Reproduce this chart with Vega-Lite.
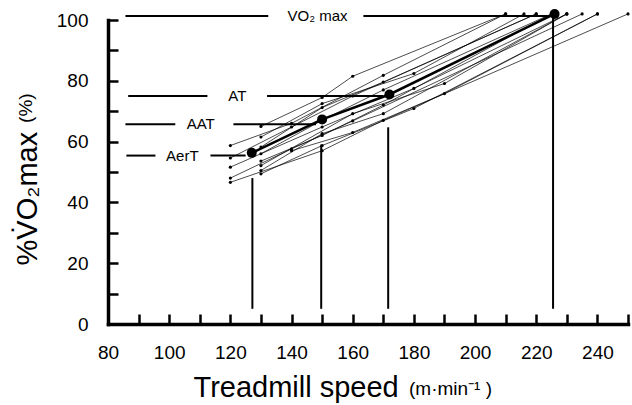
{
  "$schema": "https://vega.github.io/schema/vega-lite/v6.json",
  "width": 520,
  "height": 304,
  "autosize": "none",
  "padding": {"left": 108, "top": 20, "right": 4, "bottom": 81},
  "config": {"view": {"stroke": null}, "font": "Liberation Sans"},
  "datasets": {
    "subjects": [
      {"s": 1, "x": 130, "y": 65}, {"s": 1, "x": 150, "y": 74.5}, {"s": 1, "x": 160, "y": 81.5}, {"s": 1, "x": 210, "y": 102},
      {"s": 2, "x": 120, "y": 58.7}, {"s": 2, "x": 140, "y": 66}, {"s": 2, "x": 170, "y": 81.8}, {"s": 2, "x": 210, "y": 102},
      {"s": 3, "x": 130, "y": 61.5}, {"s": 3, "x": 150, "y": 72.5}, {"s": 3, "x": 180, "y": 82.4}, {"s": 3, "x": 216, "y": 102},
      {"s": 4, "x": 130, "y": 58.2}, {"s": 4, "x": 150, "y": 71.2}, {"s": 4, "x": 170, "y": 79.6}, {"s": 4, "x": 220, "y": 102},
      {"s": 5, "x": 120, "y": 54.6}, {"s": 5, "x": 140, "y": 64.8}, {"s": 5, "x": 160, "y": 75}, {"s": 5, "x": 220, "y": 102},
      {"s": 6, "x": 130, "y": 56}, {"s": 6, "x": 150, "y": 67}, {"s": 6, "x": 170, "y": 77}, {"s": 6, "x": 225, "y": 102},
      {"s": 7, "x": 130, "y": 53.6}, {"s": 7, "x": 150, "y": 62}, {"s": 7, "x": 170, "y": 72}, {"s": 7, "x": 225, "y": 102},
      {"s": 8, "x": 120, "y": 51.6}, {"s": 8, "x": 150, "y": 64.8}, {"s": 8, "x": 180, "y": 77.5}, {"s": 8, "x": 230, "y": 102},
      {"s": 9, "x": 130, "y": 52.1}, {"s": 9, "x": 160, "y": 69.2}, {"s": 9, "x": 190, "y": 79.1}, {"s": 9, "x": 230, "y": 102},
      {"s": 10, "x": 130, "y": 50.5}, {"s": 10, "x": 150, "y": 62.6}, {"s": 10, "x": 170, "y": 69.2}, {"s": 10, "x": 230, "y": 102},
      {"s": 11, "x": 120, "y": 48}, {"s": 11, "x": 140, "y": 57.6}, {"s": 11, "x": 160, "y": 66.8}, {"s": 11, "x": 235, "y": 102},
      {"s": 12, "x": 130, "y": 49.4}, {"s": 12, "x": 150, "y": 58.7}, {"s": 12, "x": 180, "y": 70.9}, {"s": 12, "x": 240, "y": 102},
      {"s": 13, "x": 140, "y": 57}, {"s": 13, "x": 160, "y": 63}, {"s": 13, "x": 190, "y": 75.8}, {"s": 13, "x": 240, "y": 102},
      {"s": 14, "x": 120, "y": 46.6}, {"s": 14, "x": 150, "y": 57}, {"s": 14, "x": 170, "y": 67}, {"s": 14, "x": 250, "y": 102}
    ],
    "means": [
      {"x": 127, "y": 56.3}, {"x": 150, "y": 67.3}, {"x": 172, "y": 75.5}, {"x": 226, "y": 102}
    ],
    "labelLines": [
      {"x": 85.7, "x2": 132.4, "y": 101.3}, {"x": 163.5, "x2": 225.5, "y": 101.3},
      {"x": 86.6, "x2": 112.5, "y": 75}, {"x": 132, "x2": 170, "y": 75},
      {"x": 85.7, "x2": 102, "y": 65.7}, {"x": 121, "x2": 148, "y": 65.7},
      {"x": 86, "x2": 95.5, "y": 55.4}, {"x": 113.5, "x2": 125, "y": 55.4}
    ],
    "drops": [
      {"x": 127.2, "y": 5, "y2": 48},
      {"x": 149.7, "y": 5, "y2": 59},
      {"x": 171.6, "y": 5, "y2": 64.7},
      {"x": 225.5, "y": 5, "y2": 102}
    ],
    "labels": [
      {"x": 148.5, "y": 101.3, "label": "VO₂ max"},
      {"x": 122.3, "y": 75, "label": "AT"},
      {"x": 110.3, "y": 65.7, "label": "AAT"},
      {"x": 104.3, "y": 55.4, "label": "AerT"}
    ],
    "unit": [
      {"x": 178.4, "y": -23.5, "label": "(m·min⁻¹ )"}
    ],
    "ypct": [
      {"x": 53.2, "y": 71, "label": "(%)"}
    ]
  },
  "encoding": {
    "x": {
      "field": "x", "type": "quantitative",
      "scale": {"domain": [80, 250], "nice": false, "zero": false},
      "axis": {
        "values": [80, 90, 100, 110, 120, 130, 140, 150, 160, 170, 180, 190, 200, 210, 220, 230, 240, 250],
        "labelExpr": "(datum.value % 20 === 0 && datum.value <= 240) ? datum.label : ''",
        "tickSize": -10, "tickWidth": 2.5, "tickColor": "black",
        "domainWidth": 3.5, "domainColor": "black", "domainCap": "square",
        "grid": false,
        "labelFontSize": 19, "labelColor": "black", "labelPadding": 29, "labelFlush": false,
        "title": "Treadmill speed", "titleFontSize": 29, "titleFontWeight": "normal", "titleColor": "black",
        "titleX": 85, "titleY": 72, "titleAlign": "left", "titleBaseline": "alphabetic"
      }
    },
    "y": {
      "field": "y", "type": "quantitative",
      "scale": {"domain": [0, 100], "nice": false},
      "axis": {
        "values": [0, 10, 20, 30, 40, 50, 60, 70, 80, 90, 100],
        "labelExpr": "datum.value % 20 === 0 ? datum.label : ''",
        "tickSize": -10, "tickWidth": 2.5, "tickColor": "black",
        "domainWidth": 3.5, "domainColor": "black", "domainCap": "square",
        "grid": false,
        "labelFontSize": 19, "labelColor": "black", "labelPadding": 30, "labelFlush": false,
        "title": "%V̇O₂max", "titleFontSize": 29, "titleFontWeight": "normal", "titleColor": "black",
        "titleX": -81, "titleY": 245, "titleAlign": "left", "titleBaseline": "middle", "titleAngle": -90
      }
    }
  },
  "layer": [
    {
      "data": {"name": "subjects"},
      "mark": {"type": "line", "color": "black", "strokeWidth": 0.7},
      "encoding": {"detail": {"field": "s", "type": "nominal"}}
    },
    {
      "data": {"name": "subjects"},
      "mark": {"type": "point", "filled": true, "color": "black", "size": 10, "opacity": 1}
    },
    {
      "data": {"name": "means"},
      "mark": {"type": "line", "color": "black", "strokeWidth": 2.5}
    },
    {
      "data": {"name": "means"},
      "mark": {"type": "point", "filled": true, "color": "black", "size": 100, "opacity": 1}
    },
    {
      "data": {"name": "labelLines"},
      "mark": {"type": "rule", "color": "black", "strokeWidth": 2},
      "encoding": {"x2": {"field": "x2"}}
    },
    {
      "data": {"name": "drops"},
      "mark": {"type": "rule", "color": "black", "strokeWidth": 2},
      "encoding": {"y2": {"field": "y2"}}
    },
    {
      "data": {"name": "labels"},
      "mark": {"type": "text", "fontSize": 15, "color": "black", "align": "center", "baseline": "middle"},
      "encoding": {"text": {"field": "label"}}
    },
    {
      "data": {"name": "unit"},
      "mark": {"type": "text", "fontSize": 19, "color": "black", "align": "left", "baseline": "alphabetic"},
      "encoding": {"text": {"field": "label"}}
    },
    {
      "data": {"name": "ypct"},
      "mark": {"type": "text", "fontSize": 19, "color": "black", "align": "center", "baseline": "middle", "angle": 270},
      "encoding": {"text": {"field": "label"}}
    }
  ]
}
